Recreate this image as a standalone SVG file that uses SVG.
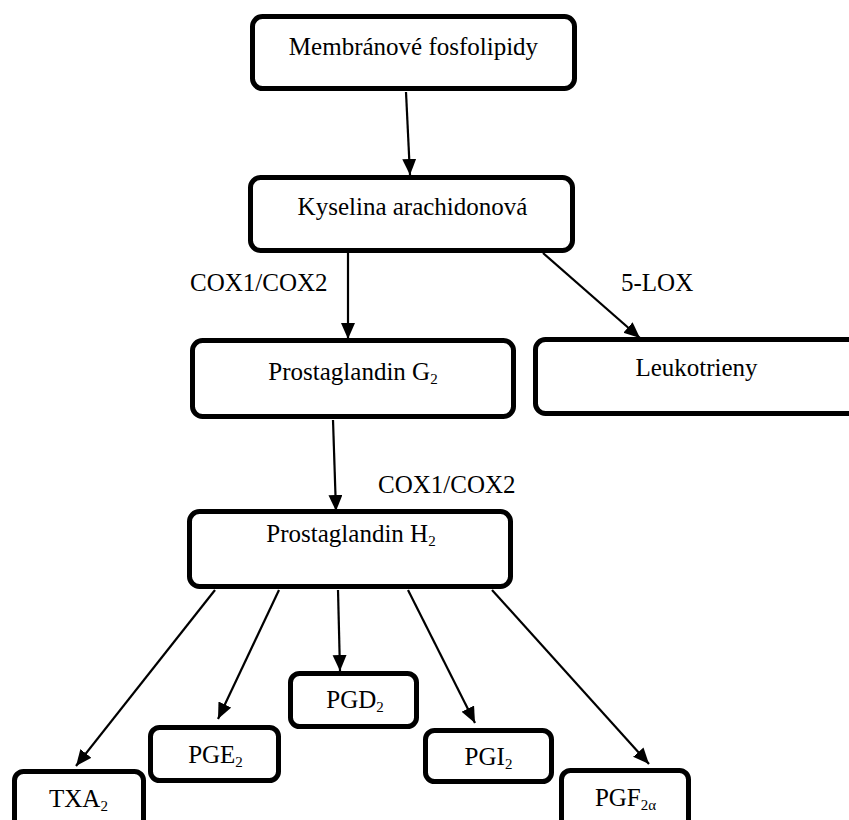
<svg xmlns="http://www.w3.org/2000/svg" width="849" height="820" viewBox="0 0 849 820">
<style>
  .box { fill: #ffffff; stroke: #000000; stroke-width: 5; }
  .sbox { fill: #ffffff; stroke: #000000; stroke-width: 5; }
  text { font-family: 'Liberation Serif', 'DejaVu Serif', 'Times New Roman', Times, serif; font-size: 25px; fill: #000000; }
  .sub { font-size: 15px; }
  .conn line { stroke: #000000; stroke-width: 2.2; fill: none; marker-end: url(#ah); }
</style>
<defs>
  <marker id="ah" markerUnits="userSpaceOnUse" markerWidth="17" markerHeight="15" refX="16" refY="7" orient="auto">
    <path d="M0,0 L16,7 L0,14 z" fill="#000000"/>
  </marker>
</defs>
<rect width="849" height="820" fill="#ffffff"/>

<g id="connectors" class="conn">
  <line x1="406" y1="92" x2="410" y2="175"/>
  <line x1="348" y1="253" x2="348" y2="339"/>
  <line x1="543" y1="253" x2="640" y2="338"/>
  <line x1="333" y1="420" x2="336" y2="511"/>
  <line x1="215" y1="590" x2="76" y2="766"/>
  <line x1="279" y1="590" x2="218" y2="719"/>
  <line x1="338" y1="590" x2="340" y2="671"/>
  <line x1="408" y1="590" x2="475" y2="723"/>
  <line x1="492" y1="590" x2="649" y2="764"/>
</g>

<g id="labels">
  <text x="190" y="291" font-family="Liberation Serif, serif">COX1/COX2</text>
  <text x="621" y="291" font-family="Liberation Serif, serif">5-LOX</text>
  <text x="378" y="493" font-family="Liberation Serif, serif">COX1/COX2</text>
</g>

<g id="membranove">
  <rect class="box" x="252.5" y="16.5" width="322" height="72" rx="10"/>
  <text x="413.5" y="55" text-anchor="middle" font-family="Liberation Serif, serif">Membránové fosfolipidy</text>
</g>

<g id="kyselina">
  <rect class="box" x="250.5" y="177.5" width="322" height="73" rx="10"/>
  <text x="412.5" y="215" text-anchor="middle" font-family="Liberation Serif, serif">Kyselina arachidonová</text>
</g>

<g id="pgg2">
  <rect class="box" x="192.5" y="340.5" width="321" height="76" rx="10"/>
  <text x="353" y="380" text-anchor="middle" font-family="Liberation Serif, serif">Prostaglandin G<tspan class="sub" dy="4">2</tspan></text>
</g>

<g id="leukotrieny">
  <rect class="box" x="535.5" y="339.5" width="330" height="74" rx="10"/>
  <text x="696.5" y="376" text-anchor="middle" font-family="Liberation Serif, serif">Leukotrieny</text>
</g>

<g id="pgh2">
  <rect class="box" x="189.5" y="511.5" width="321" height="75" rx="10"/>
  <text x="351" y="542" text-anchor="middle" font-family="Liberation Serif, serif">Prostaglandin H<tspan class="sub" dy="4">2</tspan></text>
</g>

<g id="pgd2">
  <rect class="sbox" x="290.5" y="673.5" width="126" height="53" rx="9"/>
  <text x="355" y="708" text-anchor="middle" font-family="Liberation Serif, serif">PGD<tspan class="sub" dy="4">2</tspan></text>
</g>

<g id="pge2">
  <rect class="sbox" x="150.5" y="727.5" width="128" height="53" rx="9"/>
  <text x="215.5" y="763" text-anchor="middle" font-family="Liberation Serif, serif">PGE<tspan class="sub" dy="4">2</tspan></text>
</g>

<g id="pgi2">
  <rect class="sbox" x="425.5" y="730.5" width="126" height="51" rx="9"/>
  <text x="488.5" y="765" text-anchor="middle" font-family="Liberation Serif, serif">PGI<tspan class="sub" dy="4">2</tspan></text>
</g>

<g id="txa2">
  <rect class="sbox" x="14.5" y="771.5" width="129" height="60" rx="9"/>
  <text x="78.5" y="807" text-anchor="middle" font-family="Liberation Serif, serif">TXA<tspan class="sub" dy="4">2</tspan></text>
</g>

<g id="pgf2a">
  <rect class="sbox" x="561.5" y="770.5" width="127" height="60" rx="9"/>
  <text x="625.5" y="806" text-anchor="middle" font-family="Liberation Serif, serif">PGF<tspan class="sub" dy="4">2α</tspan></text>
</g>
</svg>
